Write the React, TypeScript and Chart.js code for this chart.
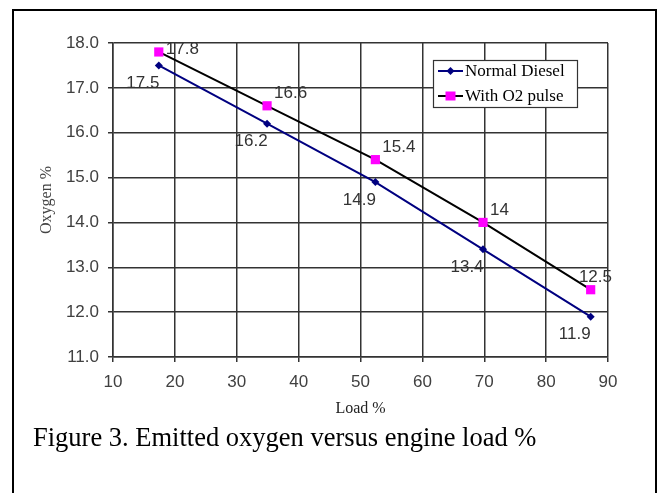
import React, { useEffect, useRef } from "react";
import { Chart, registerables } from "chart.js";

Chart.register(...registerables);

const loadPct = [17.4, 34.9, 52.4, 69.8, 87.2];
const normalDiesel = [17.5, 16.2, 14.9, 13.4, 11.9];
const withO2Pulse = [17.8, 16.6, 15.4, 14, 12.5];
const seriesNames = ["Normal Diesel", "With O2 pulse"];
const captionText = "Figure 3. Emitted oxygen versus engine load %";
const xTitle = "Load %";
const yTitle = "Oxygen %";

const SANS = "'Liberation Sans', Arial, sans-serif";
const SERIF = "'Liberation Serif', 'Times New Roman', serif";

const labelPlugin = {
  id: "pointLabels",
  afterDatasetsDraw(chart: any) {
    const { ctx, chartArea } = chart;
    ctx.save();
    ctx.font = `17px ${SANS}`;
    ctx.fillStyle = "#333";
    ctx.textBaseline = "middle";
    chart.data.datasets.forEach((ds: any, di: number) => {
      const meta = chart.getDatasetMeta(di);
      meta.data.forEach((pt: any, i: number) => {
        const v = ds.data[i].y;
        const txt = String(v);
        const w = ctx.measureText(txt).width;
        let left: number, cy: number;
        if (di === 0) {
          left = pt.x - 16 - w / 2;
          cy = pt.y + 18;
        } else {
          left = pt.x + 7;
          cy = pt.y - 12;
          if (left + w > chartArea.right + 4) left = chartArea.right + 4 - w;
          if (cy < chartArea.top + 6) cy = chartArea.top + 6;
        }
        ctx.textAlign = "left";
        ctx.fillText(txt, left, cy);
      });
    });
    ctx.restore();
  },
};

const legendPlugin = {
  id: "innerLegend",
  afterDraw(chart: any) {
    const { ctx, chartArea } = chart;
    const x0 = chartArea.right - 175;
    const y0 = chartArea.top + 17;
    const w = 144;
    const h = 47;
    ctx.save();
    ctx.fillStyle = "#fff";
    ctx.fillRect(x0, y0, w, h);
    ctx.strokeStyle = "#333";
    ctx.lineWidth = 1.2;
    ctx.strokeRect(x0 + 0.5, y0 + 0.5, w, h);
    ctx.font = `17px ${SERIF}`;
    ctx.textBaseline = "middle";
    ctx.textAlign = "left";
    chart.data.datasets.forEach((ds: any, i: number) => {
      const cy = y0 + 11 + i * 25;
      ctx.strokeStyle = ds.borderColor;
      ctx.lineWidth = 2;
      ctx.beginPath();
      ctx.moveTo(x0 + 5, cy);
      ctx.lineTo(x0 + 30, cy);
      ctx.stroke();
      ctx.fillStyle = ds.pointBackgroundColor;
      if (ds.pointStyle === "rect") {
        ctx.fillRect(x0 + 17.5 - 5, cy - 4.5, 10, 9);
      } else {
        ctx.beginPath();
        ctx.moveTo(x0 + 17.5, cy - 4);
        ctx.lineTo(x0 + 21.5, cy);
        ctx.lineTo(x0 + 17.5, cy + 4);
        ctx.lineTo(x0 + 13.5, cy);
        ctx.closePath();
        ctx.fill();
      }
      ctx.fillStyle = "#000";
      ctx.fillText(ds.label, x0 + 32, cy + 1);
    });
    ctx.restore();
  },
};

export default function App() {
  const ref = useRef<HTMLCanvasElement | null>(null);
  useEffect(() => {
    if (!ref.current) return;
    const chart = new Chart(ref.current, {
      type: "line",
      data: {
        datasets: [
          {
            label: seriesNames[0],
            data: loadPct.map((x, i) => ({ x, y: normalDiesel[i] })),
            borderColor: "#000080",
            backgroundColor: "#000080",
            pointBackgroundColor: "#000080",
            pointBorderColor: "#000080",
            pointStyle: "rectRot",
            pointRadius: 4,
            pointBorderWidth: 0,
            borderWidth: 2,
            tension: 0,
          },
          {
            label: seriesNames[1],
            data: loadPct.map((x, i) => ({ x, y: withO2Pulse[i] })),
            borderColor: "#000000",
            backgroundColor: "#ff00ff",
            pointBackgroundColor: "#ff00ff",
            pointBorderColor: "#ff00ff",
            pointStyle: "rect",
            pointRadius: 6.5,
            pointBorderWidth: 0,
            borderWidth: 2,
            tension: 0,
          },
        ],
      },
      options: {
        responsive: false,
        animation: false,
        layout: { padding: { left: 0, top: 43, right: 52, bottom: 0 } },
        plugins: { legend: { display: false }, tooltip: { enabled: false } },
        scales: {
          x: {
            type: "linear",
            min: 10,
            max: 90,
            ticks: {
              stepSize: 10,
              color: "#404040",
              font: { family: SANS, size: 17 },
              padding: 10,
            },
            grid: { color: "#333", lineWidth: 1.5, tickLength: 5 },
            border: { color: "#333", width: 1.5 },
            title: {
              display: true,
              text: xTitle,
              color: "#222",
              font: { family: SERIF, size: 16 },
              padding: { top: 0, bottom: 75 },
            },
            afterFit: (s: any) => {
              s.height = 136;
            },
          },
          y: {
            min: 11,
            max: 18,
            ticks: {
              stepSize: 1,
              color: "#404040",
              font: { family: SANS, size: 17 },
              padding: 9,
              callback: (v: any) => Number(v).toFixed(1),
            },
            grid: { color: "#333", lineWidth: 1.5, tickLength: 5 },
            border: { color: "#333", width: 1.5 },
            title: {
              display: true,
              text: yTitle,
              color: "#444",
              font: { family: SERIF, size: 16 },
              padding: { top: 37, bottom: 0 },
            },
            afterFit: (s: any) => {
              s.width = 113;
            },
          },
        },
      },
      plugins: [labelPlugin, legendPlugin],
    });
    return () => chart.destroy();
  }, []);

  return (
    <div>
      <div
        style={{
          position: "fixed",
          left: 12,
          top: 9,
          width: 645,
          height: 520,
          border: "2px solid #000",
          boxSizing: "border-box",
        }}
      />
      <canvas
        ref={ref}
        width={660}
        height={493}
        style={{ position: "fixed", left: 0, top: 0, width: 660, height: 493 }}
      />
      <div
        style={{
          position: "fixed",
          left: 33,
          top: 422,
          font: `26.5px ${SERIF}`,
          lineHeight: "30px",
          color: "#000",
          whiteSpace: "nowrap",
        }}
      >
        {captionText}
      </div>
    </div>
  );
}
